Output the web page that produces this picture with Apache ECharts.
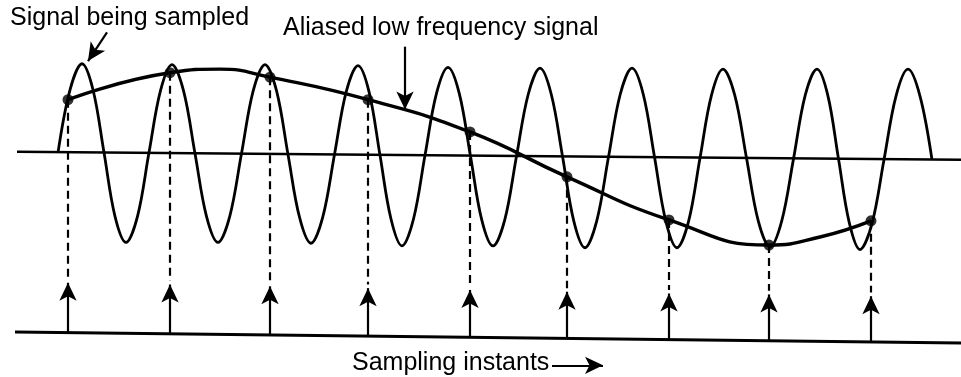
<!DOCTYPE html>
<html>
<head>
<meta charset="utf-8">
<script src="https://cdn.jsdelivr.net/npm/echarts@6/dist/echarts.min.js"></script>
<style>html,body{margin:0;padding:0;background:#fff}#c{width:961px;height:377px}</style>
</head>
<body>
<div id="c"></div>
<script>
// ---- data (time in drawing units, amplitude in signal units) ----
const waveTime = [-10,2,14,25,36,47,58,69.5,81,92.5,104,115.5,127,138.5,150,161.75,173.5,185.25,197,208.5,220,231.5,243,254.75,266.5,278.25,290,301,312,323,334,345.5,357,368.5,380,391.25,402.5,413.75,425,436.75,448.5,460.25,472,483.25,494.5,505.75,517,528.75,540.5,552.25,564,575.25,586.5,597.75,609,620.5,632,643.5,655,666.75,678.5,690.25,702,713.75,725.5,737.25,749,759.75,770.5,781.25,792,804,816,828,840,852,864];
const waveValue = [0.05,0.75,1.04,0.75,0.05,-0.66,-0.95,-0.66,0.05,0.74,1.03,0.74,0.04,-0.66,-0.95,-0.66,0.04,0.74,1.03,0.74,0.03,-0.67,-0.96,-0.67,0.03,0.73,1.02,0.73,0.02,-0.69,-0.99,-0.69,0.02,0.71,1.00,0.71,0.01,-0.70,-0.99,-0.70,0.01,0.70,0.99,0.70,0.01,-0.71,-1.01,-0.71,0.00,0.70,0.99,0.70,0.00,-0.71,-1.01,-0.72,-0.01,0.69,0.98,0.69,-0.01,-0.71,-1.00,-0.71,-0.02,0.69,0.98,0.69,-0.02,-0.73,-1.03,-0.74,-0.03,0.68,0.98,0.68,-0.03];
const sampleTime = [0,102,202,300,402,499,601,701,803];
const sampleValue = [0.64,0.94,0.89,0.64,0.28,-0.22,-0.70,-0.98,-0.71];
const aliasTime = [0,102,152,202,300,402,499,601,701,752,803];
const aliasValue = [0.64,0.94,0.98,0.89,0.64,0.28,-0.22,-0.70,-0.98,-0.89,-0.71];
const axisTime = [-51, 893];
const axisValue = [0.06, -0.03];
const baseTime = [-53, 893];
const baseValue = [-1.95, -2.07];
const arrowTip = [-1.40,-1.42,-1.44,-1.46,-1.48,-1.50,-1.52,-1.53,-1.55];
const arrowBase = [-1.96,-1.97,-1.98,-1.99,-2.01,-2.02,-2.03,-2.05,-2.06];
const labels = ['Signal being sampled', 'Aliased low frequency signal', 'Sampling instants'];
// annotation pointers: [fromTime, fromValue, toTime, toValue]
const pointers = [[39, 1.39, 20, 1.07], [337, 1.23, 337, 0.53], [484, -2.32, 535, -2.32]];

const zip = (a, b) => a.map((v, i) => [v, b[i]]);
const FONT = '"Liberation Sans", Arial, Helvetica, sans-serif';

const chart = echarts.init(document.getElementById('c'), null, {renderer: 'canvas'});
chart.setOption({
  animation: false,
  backgroundColor: '#ffffff',
  grid: {left: 17, right: 0, top: 0, bottom: 0},
  xAxis: {type: 'value', min: -51, max: 893, show: false},
  yAxis: {type: 'value', min: -2.45, max: 1.75, show: false},
  series: [
    {type: 'line', data: zip(axisTime, axisValue), symbol: 'none', lineStyle: {color: '#000', width: 2.5}},
    {type: 'line', data: zip(baseTime, baseValue), symbol: 'none', lineStyle: {color: '#000', width: 3}},
    {type: 'line', name: labels[0], data: zip(waveTime, waveValue), smooth: 0.35, symbol: 'none',
     lineStyle: {color: '#000', width: 2.8}},
    {type: 'line', name: labels[1], data: zip(aliasTime, aliasValue), smooth: 0.5, symbol: 'none',
     lineStyle: {color: '#000', width: 3.4}},
    {type: 'scatter', data: [], silent: true,
     markLine: {silent: true, symbol: ['none', 'none'], label: {show: false},
       lineStyle: {color: '#000', width: 2.2, type: [8, 5]},
       data: sampleTime.map((t, i) => [{coord: [t, sampleValue[i]]}, {coord: [t, arrowTip[i] + 0.04]}])}},
    {type: 'scatter', data: [], silent: true,
     markLine: {silent: true, symbol: ['none', 'arrow'], symbolSize: [13, 18], label: {show: false},
       lineStyle: {color: '#000', width: 2.2, type: 'solid'},
       data: sampleTime.map((t, i) => [{coord: [t, arrowBase[i]]}, {coord: [t, arrowTip[i]]}])
         .concat(pointers.map(p => [{coord: [p[0], p[1]]}, {coord: [p[2], p[3]]}]))}},
    {type: 'scatter', name: labels[2], data: zip(sampleTime, sampleValue), symbolSize: 11,
     itemStyle: {color: '#000'}, z: 5}
  ],
  graphic: [
    {type: 'text', left: 10, top: 6, style: {text: labels[0], font: '25px ' + FONT, fill: '#000'}},
    {type: 'text', left: 283, top: 16, style: {text: labels[1], font: '25px ' + FONT, fill: '#000'}},
    {type: 'text', left: 352, top: 351, style: {text: labels[2], font: '25px ' + FONT, fill: '#000'}}
  ]
});
</script>
</body>
</html>
